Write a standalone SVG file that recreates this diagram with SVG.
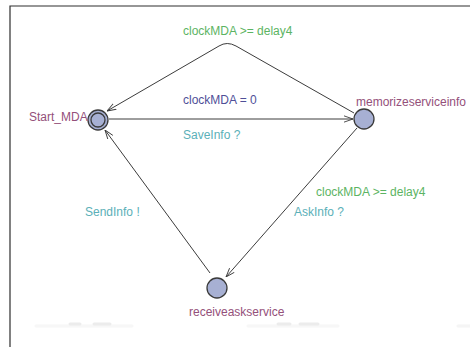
<svg xmlns="http://www.w3.org/2000/svg" width="470" height="347" viewBox="0 0 470 347">
  <defs>
    <style>
      text { font-family: "Liberation Sans", Arial, sans-serif; font-size: 12px; }
      .name { fill: #94507a; }
      .guard { fill: #5cb463; }
      .assign { fill: #4f4f98; }
      .sync { fill: #5bb0b8; }
      .loc { fill: #a7b0d3; stroke: #3a3a3a; stroke-width: 1.3; }
      .edge { fill: none; stroke: #3c3c3c; stroke-width: 1; }
      .smudge { stroke: #ececec; stroke-width: 3; stroke-linecap: round; }
    </style>
    <marker id="arrow" viewBox="0 0 10 10" refX="10" refY="5" markerWidth="9" markerHeight="9" markerUnits="userSpaceOnUse" orient="auto">
      <path d="M 0 1.5 L 10 5 L 0 8.5" fill="none" stroke="#3c3c3c" stroke-width="1"/>
    </marker>
  </defs>

  <rect width="470" height="347" fill="#ffffff"/>
  <!-- frame -->
  <path d="M 10 347 L 10 6 L 470 6" fill="none" stroke="#2e2e2e" stroke-width="1.2"/>

  <!-- faint marks along the bottom -->
  <g id="marks">
    <line class="smudge" x1="36" y1="326" x2="132" y2="326" opacity="0.4"/>
    <line class="smudge" x1="70" y1="324" x2="80" y2="324"/>
    <line class="smudge" x1="94" y1="324" x2="110" y2="324"/>
    <line class="smudge" x1="248" y1="326" x2="338" y2="326" opacity="0.4"/>
    <line class="smudge" x1="278" y1="324" x2="290" y2="324"/>
    <line class="smudge" x1="300" y1="324" x2="318" y2="324"/>
    <line class="smudge" x1="458" y1="326" x2="470" y2="326" opacity="0.5"/>
  </g>

  <!-- transitions -->
  <g id="connectors">
    <path class="edge" d="M 354 113 L 236 46 Q 227 41 219 46 L 107 111" marker-end="url(#arrow)"/>
    <path class="edge" d="M 109 119 L 353 119" marker-end="url(#arrow)"/>
    <path class="edge" d="M 357 128 L 226 277" marker-end="url(#arrow)"/>
    <path class="edge" d="M 210 273 L 105 130" marker-end="url(#arrow)"/>
  </g>

  <!-- transition labels -->
  <g id="labels">
    <text class="guard" x="183" y="35">clockMDA &gt;= delay4</text>
    <text class="assign" x="183" y="104">clockMDA = 0</text>
    <text class="sync" x="183" y="139">SaveInfo ?</text>
    <text class="guard" x="316" y="196">clockMDA &gt;= delay4</text>
    <text class="sync" x="294" y="216">AskInfo ?</text>
    <text class="sync" x="85" y="216">SendInfo !</text>
  </g>

  <!-- locations -->
  <g id="Start_MDA">
    <circle class="loc" cx="98" cy="120" r="10"/>
    <circle class="loc" cx="98" cy="120" r="7"/>
    <text class="name" x="29" y="121">Start_MDA</text>
  </g>
  <g id="memorizeserviceinfo">
    <circle class="loc" cx="364" cy="119" r="10"/>
    <text class="name" x="356" y="106">memorizeserviceinfo</text>
  </g>
  <g id="receiveaskservice">
    <circle class="loc" cx="217" cy="288" r="10"/>
    <text class="name" x="189" y="316">receiveaskservice</text>
  </g>
</svg>
